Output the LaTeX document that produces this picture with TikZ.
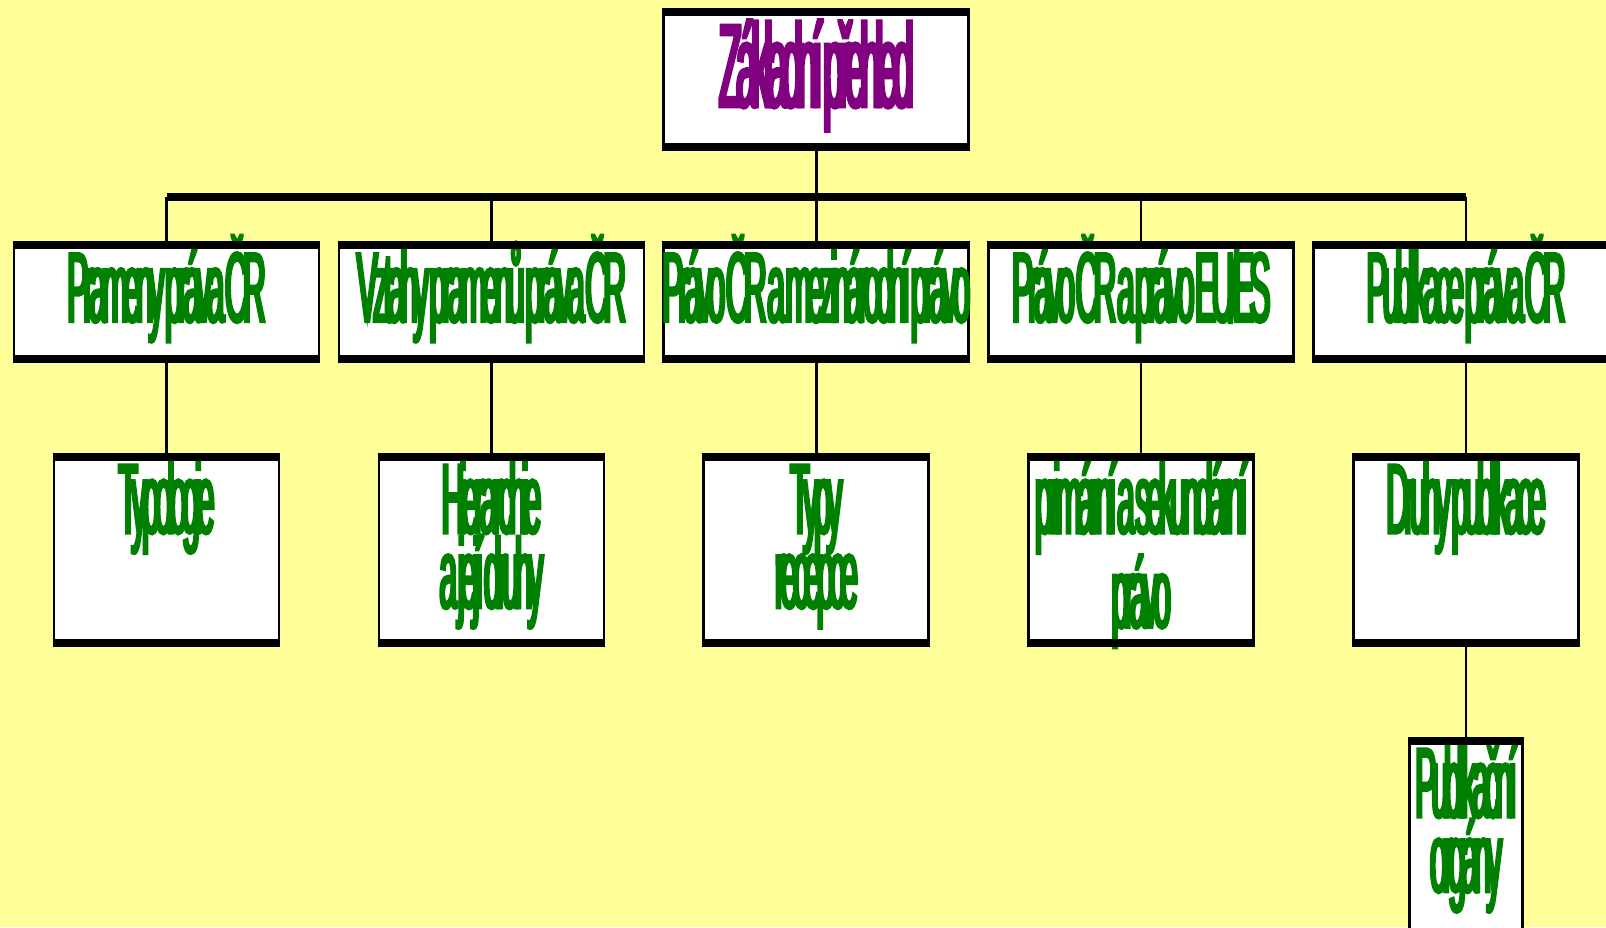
\documentclass[tikz,border=0pt]{standalone}
\usepackage{fontspec}
\newfontfamily\chartfont[FakeStretch=0.32,LetterSpace=-5,FakeBold=3,WordSpace=0.15]{Liberation Sans}
\definecolor{paper}{RGB}{255,255,153}
\definecolor{leaf}{RGB}{0,128,0}
\definecolor{plum}{RGB}{128,0,128}
\tikzset{
  box/.style={draw, fill=white, line width=2.7pt, inner sep=0pt, align=flush center, text=leaf,
    font=\chartfont\fontsize{99}{73}\selectfont},
  topbox/.style={box, text width=305pt, text height=93.7pt, text depth=39.3pt, text=plum,
    font=\chartfont\fontsize{118}{90}\selectfont},
  midbox/.style={box, text width=345pt, inner xsep=-20pt, text height=75.7pt, text depth=35.8pt},
  lowbox/.style={box, text width=225pt, text height=75pt, text depth=109pt},
  endbox/.style={box, text width=113pt, text height=75pt, text depth=114pt},
  rim/.style={line width=8pt},
  link/.style={line width=2.5pt},
  bus/.style={line width=8pt},
}
\begin{document}
\begin{tikzpicture}[x=1pt,y=-1pt]
  \fill[paper] (0,0) rectangle (1606,927);
  \useasboundingbox (0,0) rectangle (1606,927);
  % connectors
  \coordinate (busl) at (166.5,196.7);
  \coordinate (busr) at (1466,196.7);
  \draw[bus] (busl) -- (busr);
  % top
  \node[topbox] (zp) at (816.3,79.5) {Základní přehled};
  % middle row
  \node[midbox] (pr) at (166.5,301.75) {Prameny práva ČR};
  \node[midbox] (vz) at (491.4,301.75) {Vztahy pramenů práva ČR};
  \node[midbox] (pm) at (816.3,301.75) {Právo ČR a mezinárodní právo};
  \node[midbox] (pe) at (1141.2,301.75) {Právo ČR a právo EU/ES};
  \node[midbox] (pu) at (1466,301.75) {Publikace práva ČR};
  % lower row
  \node[lowbox] (ty) at (166.5,550) {Typologie};
  \node[lowbox] (hi) at (491.4,550) {Hierarchie\\a její druhy};
  \node[lowbox] (re) at (816.3,550) {Typy\\recepce};
  \node[lowbox] (ps) at (1141.2,550) {primární a sekundární\\právo};
  \node[lowbox] (dp) at (1466,550) {Druhy publikace};
  \node[endbox] (po) at (1466,836.5) {Publikační\\orgány};
  \draw[link] (zp.south) -- (zp.south |- busl);
  \foreach \n in {pr,vz,pm,pe,pu}
    \draw[link] (\n.north) -- (\n.north |- busl);
  \draw[link] (pr.south) -- (ty.north);
  \draw[link] (vz.south) -- (hi.north);
  \draw[link] (pm.south) -- (re.north);
  \draw[link] (pe.south) -- (ps.north);
  \draw[link] (pu.south) -- (dp.north);
  \draw[link] (dp.south) -- (po.north);
  % thick top and bottom edges
  \foreach \n in {zp,pr,vz,pm,pe,pu,ty,hi,re,ps,dp,po}
    \draw[rim] (\n.north west) -- (\n.north east) (\n.south west) -- (\n.south east);
\end{tikzpicture}
\end{document}
